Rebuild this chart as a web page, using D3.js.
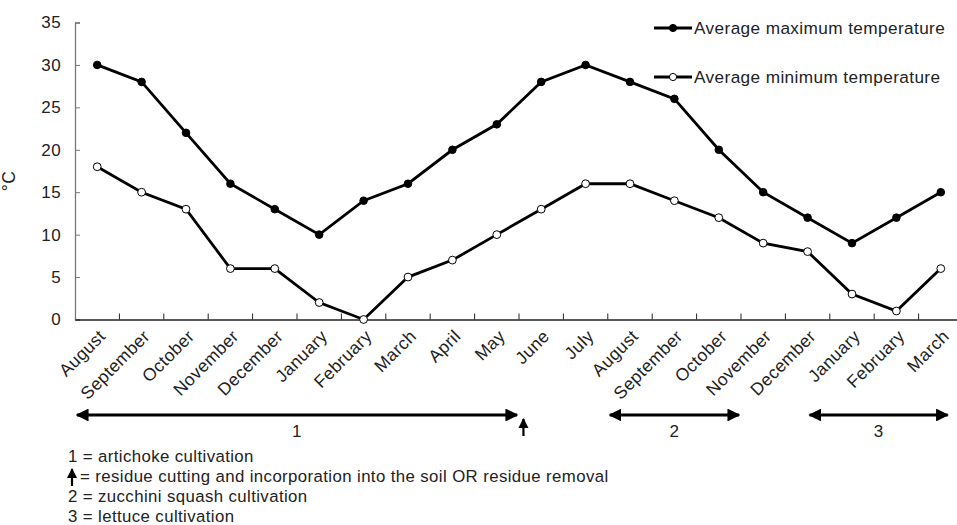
<!DOCTYPE html>
<html>
<head>
<meta charset="utf-8">
<script src="https://cdn.jsdelivr.net/npm/d3@7/dist/d3.min.js"></script>
<style>
  body { margin: 0; background: #fff; }
  svg { display: block; font-family: "Liberation Sans", Arial, sans-serif; }
  text { fill: #222; letter-spacing: 0.4px; }
</style>
</head>
<body>
<div id="chart"></div>
<script>
// months along the x axis (two seasons)
const months = ["August", "September", "October", "November", "December", "January", "February",
  "March", "April", "May", "June", "July", "August", "September", "October", "November",
  "December", "January", "February", "March"];

// average temperatures, °C
const maxTemp = [30, 28, 22, 16, 13, 10, 14, 16, 20, 23, 28, 30, 28, 26, 20, 15, 12, 9, 12, 15];
const minTemp = [18, 15, 13, 6, 6, 2, 0, 5, 7, 10, 13, 16, 16, 14, 12, 9, 8, 3, 1, 6];

const yTicks = [0, 5, 10, 15, 20, 25, 30, 35];

// cultivation periods, in month positions
const periods = [
  { label: "1", from: 0, to: 10 },
  { label: "2", from: 12, to: 15 },
  { label: "3", from: 16.5, to: 19.7 }
];
const residueAt = 10.1;

const notes = [
  "1 = artichoke cultivation",
  " = residue cutting and incorporation into the soil OR residue removal",
  "2 = zucchini squash cultivation",
  "3 = lettuce cultivation"
];

const width = 957, height = 525;
const left = 75, step = 44.4;

const svg = d3.select("#chart").append("svg")
  .attr("width", width)
  .attr("height", height);

svg.append("defs").append("marker")
  .attr("id", "head")
  .attr("viewBox", "0 0 10 10")
  .attr("refX", 9).attr("refY", 5)
  .attr("markerWidth", 4.6).attr("markerHeight", 4.6)
  .attr("markerUnits", "strokeWidth")
  .attr("orient", "auto-start-reverse")
  .append("path")
  .attr("d", "M0,0 L10,5 L0,10 z")
  .attr("fill", "#000");

const x = d3.scaleBand().domain(d3.range(months.length)).range([left, left + step * months.length]);
const pos = d => left + step * d; // continuous position along the band axis
const y = d3.scaleLinear().domain([0, 35]).range([319.5, 22.5]);

// y axis
const yAxis = svg.append("g")
  .attr("transform", `translate(${left},0)`)
  .call(d3.axisLeft(y).tickValues(yTicks).tickSize(-5).tickPadding(14));
yAxis.select(".domain").attr("stroke", "#777").attr("stroke-width", 1.3);
yAxis.selectAll(".tick line").attr("stroke", "#777");
yAxis.selectAll(".tick text").attr("font-size", 17).attr("fill", "#222");

svg.append("text")
  .attr("transform", "translate(15,181) rotate(-90)")
  .attr("text-anchor", "middle")
  .attr("font-size", 17.5)
  .text("°C");

// x axis
const xAxis = svg.append("g")
  .attr("transform", "translate(0,319.5)")
  .call(d3.axisBottom(x).tickValues([]).tickSizeOuter(0));
xAxis.select(".domain").attr("stroke", "#222").attr("stroke-width", 1.3);

svg.append("g").selectAll("line")
  .data(d3.range(1, months.length))
  .join("line")
  .attr("x1", d => pos(d)).attr("x2", d => pos(d))
  .attr("y1", 319.5).attr("y2", 313.5)
  .attr("stroke", "#222").attr("stroke-width", 1);

svg.append("g").selectAll("text")
  .data(months)
  .join("text")
  .attr("transform", (d, i) => `translate(${x(i) + x.bandwidth() / 2 + 5},333) rotate(-45)`)
  .attr("text-anchor", "end")
  .attr("dy", "0.35em")
  .attr("font-size", 17.5)
  .text(d => d);

// series
const line = d3.line().x((d, i) => x(i) + x.bandwidth() / 2).y(d => y(d));

[[maxTemp, "#000"], [minTemp, "#fff"]].forEach(([vals, fill]) => {
  svg.append("path")
    .datum(vals)
    .attr("d", line)
    .attr("fill", "none")
    .attr("stroke", "#000")
    .attr("stroke-width", 2.8);
  svg.append("g").selectAll("circle")
    .data(vals)
    .join("circle")
    .attr("cx", (d, i) => x(i) + x.bandwidth() / 2)
    .attr("cy", d => y(d))
    .attr("r", fill === "#000" ? 3.8 : 3.9)
    .attr("fill", fill)
    .attr("stroke", "#000")
    .attr("stroke-width", 1);
});

// legend
const legend = [["Average maximum temperature", "#000", 28], ["Average minimum temperature", "#fff", 77]];
legend.forEach(([name, fill, ly]) => {
  svg.append("line")
    .attr("x1", 654).attr("x2", 692).attr("y1", ly).attr("y2", ly)
    .attr("stroke", "#000").attr("stroke-width", 2.8);
  svg.append("circle")
    .attr("cx", 673).attr("cy", ly).attr("r", 3.6)
    .attr("fill", fill).attr("stroke", "#000").attr("stroke-width", 1);
  svg.append("text")
    .attr("x", 694).attr("y", ly).attr("dy", "0.35em")
    .attr("font-size", 17.2)
    .text(name);
});

// cultivation periods
const ay = 415;
periods.forEach(p => {
  svg.append("line")
    .attr("x1", pos(p.from) + 2).attr("x2", pos(p.to) - 2)
    .attr("y1", ay).attr("y2", ay)
    .attr("stroke", "#000").attr("stroke-width", 2.8)
    .attr("marker-start", "url(#head)")
    .attr("marker-end", "url(#head)");
  svg.append("text")
    .attr("x", (pos(p.from) + pos(p.to)) / 2)
    .attr("y", 431).attr("dy", "0.35em")
    .attr("text-anchor", "middle")
    .attr("font-size", 17)
    .text(p.label);
});

function upArrow(cx, y0, y1) {
  svg.append("line")
    .attr("x1", cx).attr("x2", cx).attr("y1", y1).attr("y2", y0 + 2)
    .attr("stroke", "#000").attr("stroke-width", 2.2)
    .attr("marker-end", "url(#head)");
}
upArrow(pos(residueAt), 417, 436);

// notes
notes.forEach((n, i) => {
  svg.append("text")
    .attr("x", i === 1 ? 80 : 68)
    .attr("y", 456 + i * 20.2).attr("dy", "0.35em")
    .attr("font-size", 16.8)
    .text(n);
});
upArrow(72, 467, 486);
</script>
</body>
</html>
